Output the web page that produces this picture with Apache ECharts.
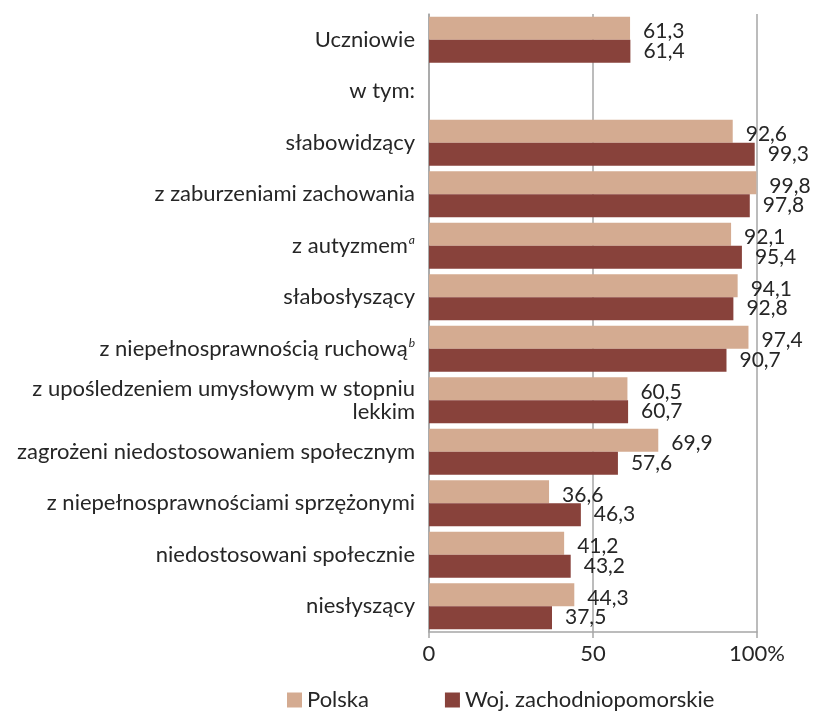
<!DOCTYPE html>
<html>
<head>
	<meta charset="utf-8" />
	<title>Uczniowie</title>
	<script src="https://cdn.jsdelivr.net/npm/echarts@6/dist/echarts.min.js"></script>
	<style>
		html, body { margin: 0; padding: 0; background: #fff; }
		#chart { width: 826px; height: 718px; }
	</style>
</head>
<body>
	<div id="chart"></div>
	<script type="text/javascript">
		const categories = [
			'Uczniowie',
			'w tym:',
			'słabowidzący',
			'z zaburzeniami zachowania',
			'z autyzmem',
			'słabosłyszący',
			'z niepełnosprawnością ruchową',
			'z upośledzeniem umysłowym w stopniu lekkim',
			'zagrożeni niedostosowaniem społecznym',
			'z niepełnosprawnościami sprzężonymi',
			'niedostosowani społecznie',
			'niesłyszący'
		];
		const polska = [61.3, null, 92.6, 99.8, 92.1, 94.1, 97.4, 60.5, 69.9, 36.6, 41.2, 44.3];
		const zachodniopomorskie = [61.4, null, 99.3, 97.8, 95.4, 92.8, 90.7, 60.7, 57.6, 46.3, 43.2, 37.5];
		const xTicks = [0, 50, 100];

		const fontFamily = 'Lato';
		const textColor = '#262626';

		const chart = echarts.init(document.getElementById('chart'));

		const labelFormatter = function (name) {
			if (name === 'z autyzmem') return '{n|z autyzmem}{sup|a}';
			if (name === 'z niepełnosprawnością ruchową') return '{n|z niepełnosprawnością ruchową}{sup|b}';
			if (name === 'z upośledzeniem umysłowym w stopniu lekkim') return '{n|z upośledzeniem umysłowym w stopniu}\n{n|lekkim}';
			return '{n|' + name + '}';
		};

		const valueLabel = function (p) {
			return p.value == null ? '' : String(p.value).replace('.', ',');
		};

		chart.setOption({
			animation: false,
			textStyle: { fontFamily: fontFamily },
			grid: { left: 429, right: 69, top: 14, bottom: 86, containLabel: false },
			legend: {
				bottom: 2,
				left: 282,
				itemGap: 76,
				itemWidth: 15,
				itemHeight: 15,
				icon: 'rect',
				textStyle: { fontSize: 22, color: textColor, fontFamily: fontFamily },
				data: ['Polska', 'Woj. zachodniopomorskie']
			},
			xAxis: {
				type: 'value',
				min: 0,
				max: 100,
				interval: 50,
				axisLine: { show: true, lineStyle: { color: '#a6a6a6', width: 1.5 } },
				axisTick: { show: true, length: 6, lineStyle: { color: '#a6a6a6', width: 1.5 } },
				splitLine: { show: true, lineStyle: { color: '#a6a6a6', width: 1.5 } },
				axisLabel: {
					fontSize: 22,
					color: textColor,
					margin: 11,
					formatter: function (v) {
						if (xTicks.indexOf(v) < 0) return '';
						return v === 100 ? '100%' : String(v);
					}
				}
			},
			yAxis: {
				type: 'category',
				inverse: true,
				data: categories,
				axisLine: { show: true, lineStyle: { color: '#a6a6a6', width: 1.5 } },
				axisTick: { show: false },
				axisLabel: {
					margin: 14,
					formatter: labelFormatter,
					rich: {
						n: { fontSize: 22, color: textColor, fontFamily: fontFamily, lineHeight: 23 },
						sup: { fontSize: 12, color: textColor, fontFamily: fontFamily, fontStyle: 'italic', verticalAlign: 'top', lineHeight: 23, padding: [0, 0, 10, 1] }
					}
				}
			},
			series: [
				{
					name: 'Polska',
					type: 'bar',
					data: polska,
					barGap: '0%',
					barCategoryGap: '11%',
					itemStyle: { color: '#d4ab91' },
					label: {
						show: true,
						position: 'right',
						distance: 13,
						offset: [0, 3],
						fontSize: 21,
						color: textColor,
						formatter: valueLabel
					}
				},
				{
					name: 'Woj. zachodniopomorskie',
					type: 'bar',
					data: zachodniopomorskie,
					barGap: '0%',
					barCategoryGap: '11%',
					itemStyle: { color: '#88423b' },
					label: {
						show: true,
						position: 'right',
						distance: 13,
						fontSize: 21,
						color: textColor,
						formatter: valueLabel
					}
				}
			]
		});
	</script>
</body>
</html>
